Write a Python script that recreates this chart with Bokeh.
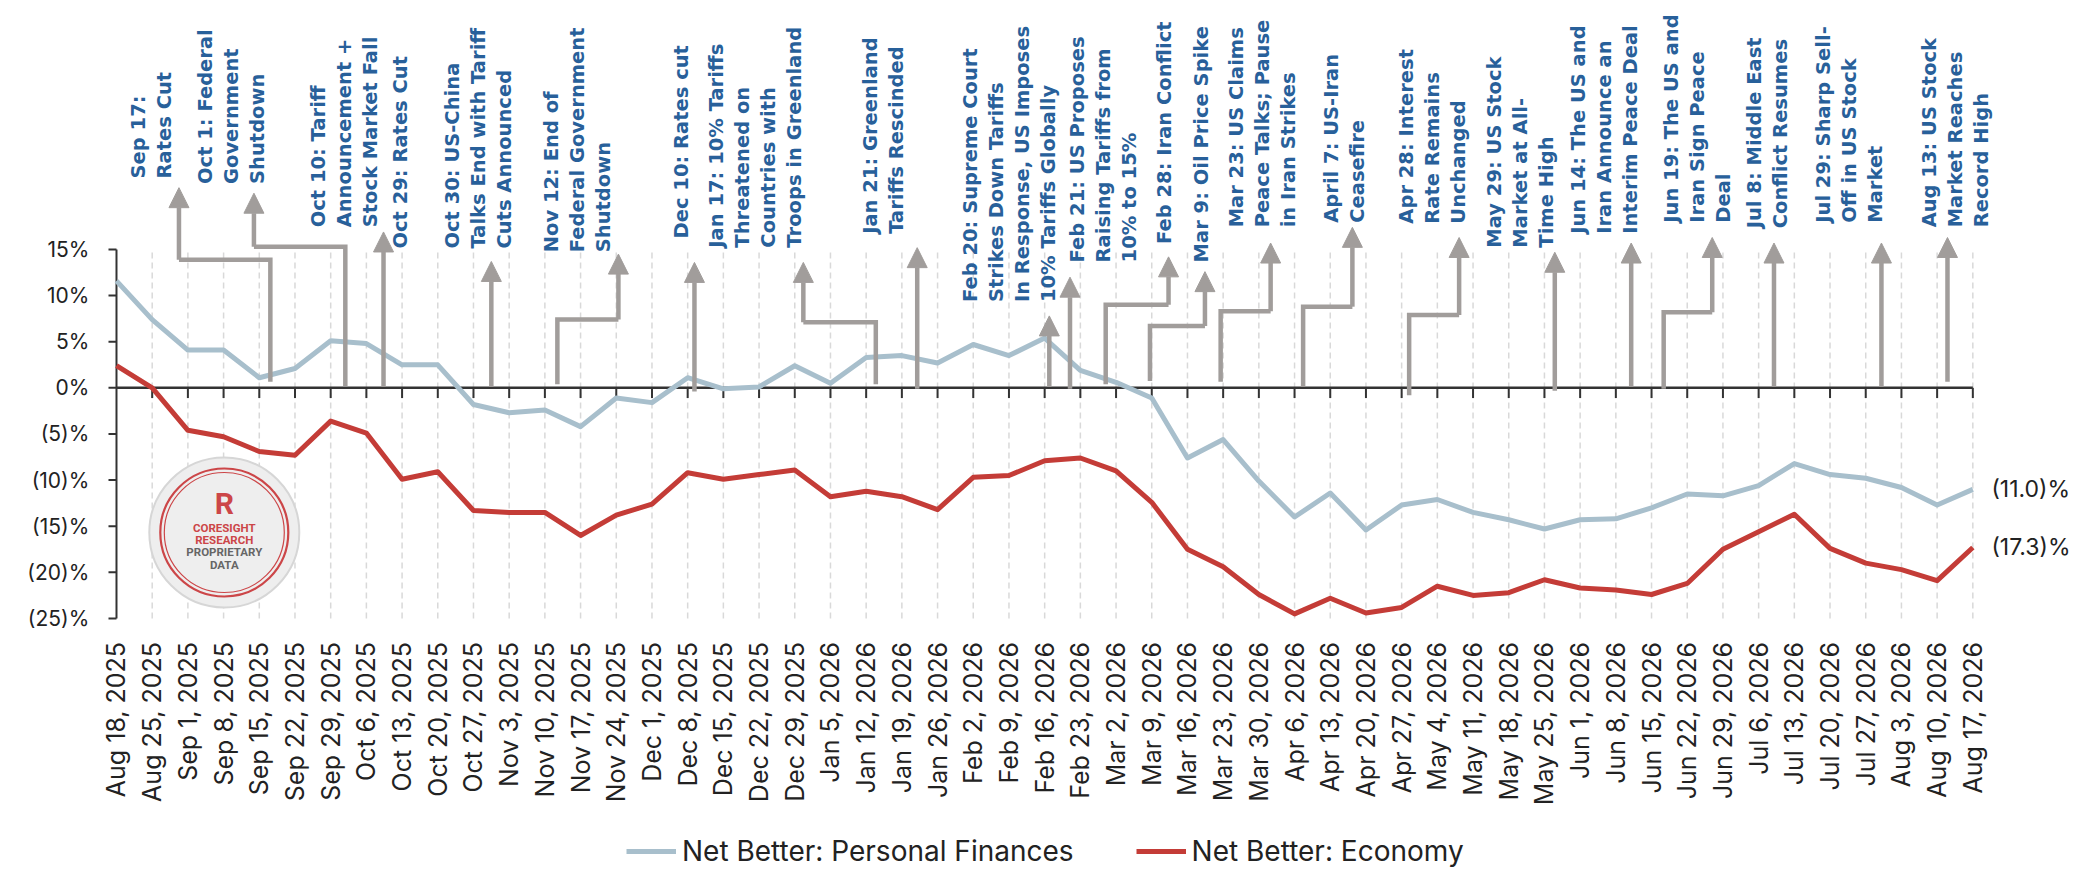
import math
from bokeh.plotting import figure
from bokeh.models import Range1d, ColumnDataSource, Arrow, NormalHead, Legend, LegendItem
from bokeh.core.properties import value
from bokeh.embed import file_html
from bokeh.resources import INLINE

# ---------------- data ----------------
weeks = ["Aug 18, 2025", "Aug 25, 2025", "Sep 1, 2025", "Sep 8, 2025", "Sep 15, 2025",
         "Sep 22, 2025", "Sep 29, 2025", "Oct 6, 2025", "Oct 13, 2025", "Oct 20, 2025",
         "Oct 27, 2025", "Nov 3, 2025", "Nov 10, 2025", "Nov 17, 2025", "Nov 24, 2025",
         "Dec 1, 2025", "Dec 8, 2025", "Dec 15, 2025", "Dec 22, 2025", "Dec 29, 2025",
         "Jan 5, 2026", "Jan 12, 2026", "Jan 19, 2026", "Jan 26, 2026", "Feb 2, 2026",
         "Feb 9, 2026", "Feb 16, 2026", "Feb 23, 2026", "Mar 2, 2026", "Mar 9, 2026",
         "Mar 16, 2026", "Mar 23, 2026", "Mar 30, 2026", "Apr 6, 2026", "Apr 13, 2026",
         "Apr 20, 2026", "Apr 27, 2026", "May 4, 2026", "May 11, 2026", "May 18, 2026",
         "May 25, 2026", "Jun 1, 2026", "Jun 8, 2026", "Jun 15, 2026", "Jun 22, 2026",
         "Jun 29, 2026", "Jul 6, 2026", "Jul 13, 2026", "Jul 20, 2026", "Jul 27, 2026",
         "Aug 3, 2026", "Aug 10, 2026", "Aug 17, 2026"]

personal = [11.6, 7.4, 4.1, 4.1, 1.1, 2.1, 5.1, 4.8, 2.5, 2.5,
            -1.8, -2.7, -2.4, -4.2, -1.1, -1.6, 1.1, -0.1, 0.1, 2.4,
            0.5, 3.3, 3.5, 2.7, 4.7, 3.5, 5.4, 1.9, 0.6, -1.1,
            -7.6, -5.6, -10.1, -14.0, -11.4, -15.4, -12.7, -12.1, -13.5, -14.3,
            -15.3, -14.3, -14.2, -13.0, -11.5, -11.7, -10.6, -8.2, -9.4, -9.8,
            -10.8, -12.7, -11.0]

economy = [2.4, 0.0, -4.6, -5.3, -6.9, -7.3, -3.6, -4.9, -9.9, -9.1,
           -13.3, -13.5, -13.5, -16.0, -13.8, -12.6, -9.2, -9.9, -9.4, -8.9,
           -11.8, -11.2, -11.8, -13.2, -9.7, -9.5, -7.9, -7.6, -9.0, -12.4,
           -17.5, -19.4, -22.4, -24.5, -22.8, -24.4, -23.8, -21.5, -22.5, -22.2,
           -20.8, -21.7, -21.9, -22.4, -21.2, -17.5, -15.6, -13.7, -17.4, -19.0,
           -19.7, -20.9, -17.3]

y_ticks = [15, 10, 5, 0, -5, -10, -15, -20, -25]
series_names = ["Net Better: Personal Finances", "Net Better: Economy"]

events = [
    ["Sep 17:", "Rates Cut"],
    ["Oct 1: Federal", "Government", "Shutdown"],
    ["Oct 10: Tariff", "Announcement +", "Stock Market Fall"],
    ["Oct 29: Rates Cut"],
    ["Oct 30: US-China", "Talks End with Tariff", "Cuts Announced"],
    ["Nov 12: End of", "Federal Government", "Shutdown"],
    ["Dec 10: Rates cut"],
    ["Jan 17: 10% Tariffs", "Threatened on", "Countries with", "Troops in Greenland"],
    ["Jan 21: Greenland", "Tariffs Rescinded"],
    ["Feb 20: Supreme Court", "Strikes Down Tariffs", "In Response, US Imposes", "10% Tariffs Globally"],
    ["Feb 21: US Proposes", "Raising Tariffs from", "10% to 15%"],
    ["Feb 28: Iran Conflict"],
    ["Mar 9: Oil Price Spike"],
    ["Mar 23: US Claims", "Peace Talks; Pause", "in Iran Strikes"],
    ["April 7: US-Iran", "Ceasefire"],
    ["Apr 28: Interest", "Rate Remains", "Unchanged"],
    ["May 29: US Stock", "Market at All-", "Time High"],
    ["Jun 14: The US and", "Iran Announce an", "Interim Peace Deal"],
    ["Jun 19: The US and", "Iran Sign Peace", "Deal"],
    ["Jul 8: Middle East", "Conflict Resumes"],
    ["Jul 29: Sharp Sell-", "Off in US Stock", "Market"],
    ["Aug 13: US Stock", "Market Reaches", "Record High"],
]

# ---------------- annotation layout (week-index / percent units) ----------------
label_x0 = [0.62, 2.49, 5.66, 7.96, 9.41, 12.18, 15.83, 16.81, 21.12, 23.92, 26.92,
            29.36, 30.39, 31.37, 34.03, 36.13, 38.60, 40.95, 43.56, 45.88, 47.82, 50.78]
label_y0 = [22.7, 22.1, 17.4, 15.1, 15.1, 14.7, 16.2, 15.2, 16.7, 9.3, 13.6,
            15.6, 13.6, 17.4, 17.9, 17.8, 15.2, 16.7, 17.9, 17.3, 17.9, 17.4]
LINE_GAP = 0.73

connectors = [
    [(4.31, 0.65), (4.31, 13.9), (1.75, 13.9), (1.75, 21.7)],
    [(6.41, 0.2), (6.41, 15.3), (3.85, 15.3), (3.85, 21.1)],
    [(7.48, 0.1), (7.48, 16.9)],
    [(10.50, 0.1), (10.50, 13.7)],
    [(12.35, 0.4), (12.35, 7.4), (14.06, 7.4), (14.06, 14.5)],
    [(16.19, -0.4), (16.19, 13.6)],
    [(21.27, 0.4), (21.27, 7.1), (19.24, 7.1), (19.24, 13.6)],
    [(22.43, -0.1), (22.43, 15.2)],
    [(26.13, 0.1), (26.13, 7.8)],
    [(26.71, -0.1), (26.71, 12.0)],
    [(27.71, 0.4), (27.71, 9.0), (29.47, 9.0), (29.47, 14.2)],
    [(28.95, 0.75), (28.95, 6.7), (30.49, 6.7), (30.49, 12.6)],
    [(30.93, 0.65), (30.93, 8.3), (32.33, 8.3), (32.33, 15.7)],
    [(33.24, 0.1), (33.24, 8.8), (34.62, 8.8), (34.62, 17.4)],
    [(36.21, -0.8), (36.21, 7.9), (37.61, 7.9), (37.61, 16.3)],
    [(40.29, -0.3), (40.29, 14.7)],
    [(42.43, 0.1), (42.43, 15.7)],
    [(43.34, -0.1), (43.34, 8.2), (44.70, 8.2), (44.70, 16.3)],
    [(46.43, 0.1), (46.43, 15.7)],
    [(49.44, 0.1), (49.44, 15.7)],
    [(51.29, 0.65), (51.29, 16.3)],
]

# ---------------- styles ----------------
FONT = "Inter"
BOLD_FONT = "DejaVu Sans"
BLUE = "#a8bfcc"
RED = "#c43c37"
ARROW = "#a19d9b"
NAVY = "#28609a"
INK = "#222222"
AXIS = "#333333"
BADGE_RED = "#cc4648"
LABEL_Y = -27.55     # top of the rotated week labels
YLABEL_X = -0.76     # right edge of the value labels
TICK_LEN_X = 0.224   # y-axis tick length (index units)
TICK_LEN_Y = 1.1     # baseline tick length (percent units)


def pct_label(v):
    return f"{v}%" if v >= 0 else f"({abs(v)})%"


def end_label(v):
    return f"({abs(v):.1f})%" if v < 0 else f"{v:.1f}%"


idx = list(range(len(weeks)))

p = figure(frame_width=2059, frame_height=862,
           x_range=Range1d(-2.857, 54.82), y_range=Range1d(-52.10, 41.34),
           output_backend="svg", toolbar_location=None,
           min_border_left=14, min_border_right=5, min_border_top=6, min_border_bottom=0)
p.outline_line_color = None
p.grid.visible = False
p.background_fill_color = "white"
p.border_fill_color = "white"
p.xaxis.visible = False
p.yaxis.visible = False

# dashed vertical gridlines
p.segment(x0=idx[1:], y0=y_ticks[-1], x1=idx[1:], y1=y_ticks[0],
          line_color="#d9d9d9", line_width=1.5, line_dash="6 4")

# value axis (drawn at the first week)
p.line(x=[idx[0], idx[0]], y=[y_ticks[-1], y_ticks[0]], line_color=AXIS, line_width=2)
p.segment(x0=[idx[0] - TICK_LEN_X] * len(y_ticks), y0=y_ticks,
          x1=[idx[0]] * len(y_ticks), y1=y_ticks, line_color=AXIS, line_width=2)
p.text(x=[YLABEL_X] * len(y_ticks), y=y_ticks, text=[pct_label(v) for v in y_ticks],
       text_font=value(FONT), text_font_size="21px", text_color=INK,
       text_align="right", text_baseline="middle")

# zero baseline with week ticks
p.line(x=[idx[0], idx[-1]], y=[0, 0], line_color=AXIS, line_width=2.5)
p.segment(x0=idx[1:], y0=0, x1=idx[1:], y1=-TICK_LEN_Y, line_color=AXIS, line_width=2)

# week labels (rotated, reading upward)
p.text(x=idx, y=[LABEL_Y] * len(idx), text=weeks, angle=math.pi / 2,
       text_font=value(FONT), text_font_size="25px", text_color=INK,
       text_align="right", text_baseline="middle")

# series
r_blue = p.line(idx, personal, line_color=BLUE, line_width=5, line_join="round")
r_red = p.line(idx, economy, line_color=RED, line_width=5, line_join="round")

# end labels
p.text(x=[idx[-1] + 0.52] * 2, y=[personal[-1], economy[-1]],
       text=[end_label(personal[-1]), end_label(economy[-1])],
       text_font=value(FONT), text_font_size="23px", text_color=INK,
       text_align="left", text_baseline="middle")

# event connectors
elbow_xs, elbow_ys, ax0, ay0, ax1, ay1 = [], [], [], [], [], []
for path in connectors:
    if len(path) > 2:
        elbow_xs.append([pt[0] for pt in path[:-1]])
        elbow_ys.append([pt[1] for pt in path[:-1]])
    ax0.append(path[-2][0]); ay0.append(path[-2][1])
    ax1.append(path[-1][0]); ay1.append(path[-1][1])
p.multi_line(xs=elbow_xs, ys=elbow_ys, line_color=ARROW, line_width=4.5, line_join="miter")
asrc = ColumnDataSource(dict(x0=ax0, y0=ay0, x1=ax1, y1=ay1))
p.add_layout(Arrow(end=NormalHead(size=20, fill_color=ARROW, line_color=ARROW, line_width=1),
                   x_start="x0", y_start="y0", x_end="x1", y_end="y1", source=asrc,
                   line_color=ARROW, line_width=4.5))

# event labels
tx, ty, tt = [], [], []
for k, lines in enumerate(events):
    for j, line in enumerate(lines):
        tx.append(label_x0[k] + j * LINE_GAP)
        ty.append(label_y0[k])
        tt.append(line)
p.text(x=tx, y=ty, text=tt, angle=math.pi / 2, text_font=value(BOLD_FONT),
       text_font_size="19.5px", text_font_style="bold", text_color=NAVY,
       text_align="left", text_baseline="middle")

# badge
bx, by = 3.02, -15.68
p.scatter(x=[bx], y=[by], marker="circle", size=150, fill_color="#eeeeee",
          line_color="#d6d6d6", line_width=2)
p.scatter(x=[bx, bx], y=[by, by], marker="circle", size=[128, 120], fill_color=None,
          line_color=BADGE_RED, line_width=[2.2, 1.2])
p.text(x=[bx], y=[by + 3.14], text=["R"], text_font=value("Roboto"), text_font_size="30px",
       text_font_style="bold", text_color=BADGE_RED, text_align="center", text_baseline="middle")
p.text(x=[bx] * 4, y=[by + 0.54, by - 0.76, by - 2.06, by - 3.47],
       text=["CORESIGHT", "RESEARCH", "PROPRIETARY", "DATA"],
       text_font=value("Roboto"), text_font_size="11.5px", text_font_style="bold",
       text_color=[BADGE_RED, BADGE_RED, "#666666", "#666666"],
       text_align="center", text_baseline="middle")

legend = Legend(items=[LegendItem(label=series_names[0], renderers=[r_blue]),
                       LegendItem(label=series_names[1], renderers=[r_red])],
                orientation="horizontal", location=(612, 0),
                label_text_font=FONT, label_text_font_size="28px", label_text_color=INK,
                glyph_width=50, glyph_height=26, label_standoff=6, spacing=62,
                border_line_color=None, background_fill_alpha=0, margin=0, padding=0)
p.add_layout(legend)

open("out.html", "w").write(file_html(p, INLINE))
